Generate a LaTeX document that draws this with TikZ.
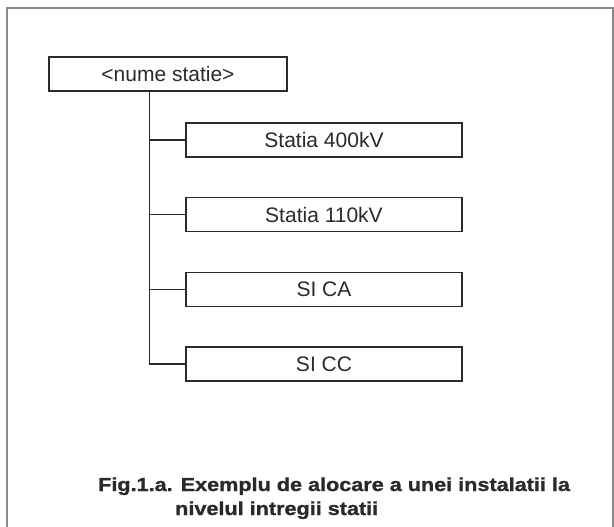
\documentclass[tikz,border=0pt]{standalone}
\usepackage{fontspec}
\setmainfont{Liberation Sans}
\newfontfamily\capfont[FakeStretch=1.15,FakeBold=1.2]{Liberation Sans Bold}
\usetikzlibrary{positioning}

\definecolor{inkgray}{HTML}{2A2A2A}
\definecolor{framegray}{HTML}{8A8A8A}

\begin{document}
\begin{tikzpicture}[
      x=1pt, y=-1pt,
      node distance=39.3pt,
      box/.style={draw=inkgray, line width=1.4pt, inner sep=0pt, minimum height=34pt,
        text=inkgray, font=\fontsize{21}{25}\selectfont},
      rootbox/.style={box, minimum width=238pt},
      subbox/.style={box, minimum width=276pt},
      link/.style={draw=inkgray, line width=1.4pt},
      caption/.style={anchor=base west, inner sep=0pt, text=inkgray,
        font=\capfont\fontsize{18.8}{24}\selectfont}
    ]
    \useasboundingbox (0,0) rectangle (614,527);
    % frame of the page
    \draw[framegray, line width=1.6pt] (7,527) -- (7,8) -- (613,8) -- (613,527);

    \node[rootbox] (root) at (168,74) {<nume statie>};
    \node[subbox] (s400) at (324,140) {Statia 400kV};
    \node[subbox, below=of s400] (s110) {Statia 110kV};
    \node[subbox, below=of s110] (sica) {SI CA};
    \node[subbox, below=of sica] (sicc) {SI CC};

    \coordinate (trunk) at ([xshift=101pt]root.south west);
    \draw[link] (trunk) -- (trunk |- sicc.west) -- (sicc.west);
    \foreach \n in {s400,s110,sica}
      \draw[link] (trunk |- \n.west) -- (\n.west);

    \node[caption] (cap1) at (98,491) {Fig.1.a. Exemplu de alocare a unei instalatii la};
    \node[caption] (cap2) at (175,515) {nivelul intregii statii};
  \end{tikzpicture}
\end{document}
